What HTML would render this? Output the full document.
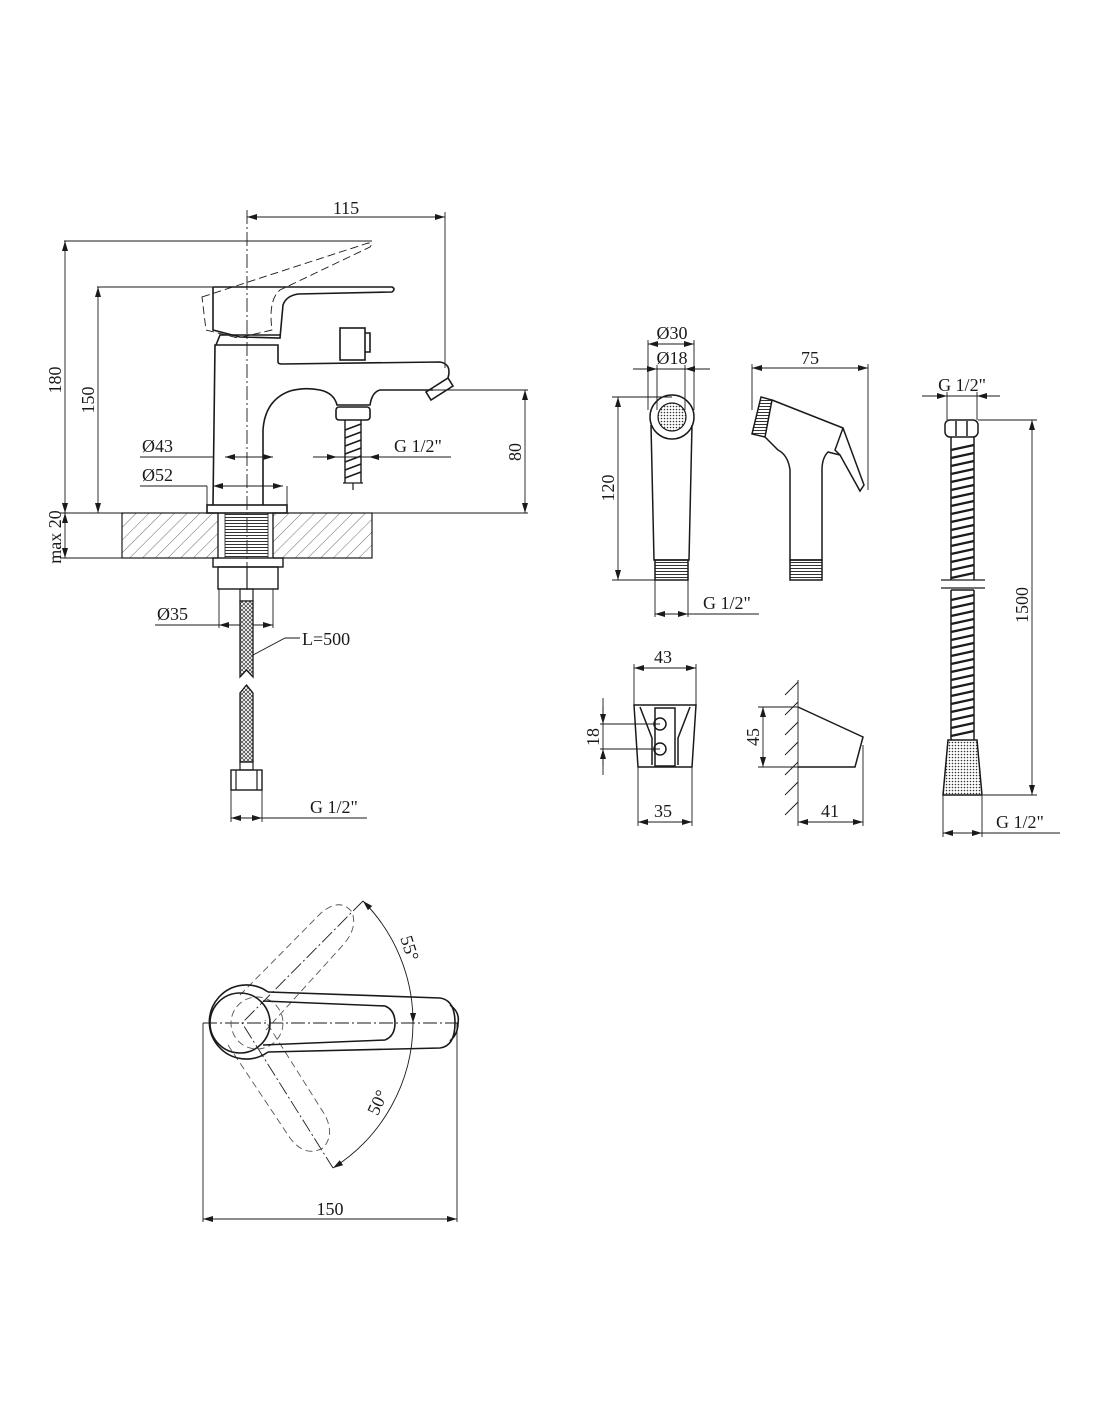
<!DOCTYPE html>
<html><head><meta charset="utf-8"><style>html,body{margin:0;padding:0;background:#fff}svg{display:block}</style></head><body>
<svg width="1100" height="1422" viewBox="0 0 1100 1422" xmlns="http://www.w3.org/2000/svg" font-family="Liberation Serif, serif" font-size="18" fill="none" stroke="#1a1a1a" stroke-width="1.2">
<defs>
<marker id="a" viewBox="0 0 10 6" refX="10" refY="3" markerWidth="10" markerHeight="6" orient="auto-start-reverse" markerUnits="userSpaceOnUse"><path d="M0,0 L10,3 L0,6 z" fill="#1a1a1a" stroke="none"/></marker>
<pattern id="h" width="9" height="9" patternUnits="userSpaceOnUse" patternTransform="rotate(45)"><line x1="0" y1="0" x2="0" y2="9" stroke="#444" stroke-width="0.8"/></pattern>
<pattern id="x" width="4" height="4" patternUnits="userSpaceOnUse"><rect width="4" height="4" fill="#fff" stroke="none"/><path d="M0,0 L4,4 M4,0 L0,4" stroke="#333" stroke-width="0.7"/></pattern>
<pattern id="d" width="3" height="3" patternUnits="userSpaceOnUse"><rect width="3" height="3" fill="#fff" stroke="none"/><circle cx="1.5" cy="1.5" r="0.8" fill="#333" stroke="none"/></pattern>
<pattern id="t" width="4" height="3" patternUnits="userSpaceOnUse"><line x1="0" y1="1.5" x2="4" y2="1.5" stroke="#333" stroke-width="1"/></pattern>
</defs>

<g stroke-width="0.9">
<line x1="247" y1="210" x2="247" y2="590" stroke-dasharray="14 3 2 3"/>
<line x1="247" y1="217" x2="445" y2="217" marker-start="url(#a)" marker-end="url(#a)"/>
<line x1="445" y1="212" x2="445" y2="368"/>
<line x1="64" y1="241" x2="372" y2="241"/>
<line x1="65" y1="241" x2="65" y2="513" marker-start="url(#a)" marker-end="url(#a)"/>
<line x1="97" y1="287" x2="213" y2="287"/>
<line x1="98" y1="287" x2="98" y2="513" marker-start="url(#a)" marker-end="url(#a)"/>
<line x1="65" y1="513" x2="65" y2="558" marker-start="url(#a)" marker-end="url(#a)"/>
<line x1="60" y1="558" x2="122" y2="558"/>
<line x1="60" y1="513" x2="528" y2="513"/>
<line x1="433" y1="390" x2="528" y2="390"/>
<line x1="525" y1="390" x2="525" y2="513" marker-start="url(#a)" marker-end="url(#a)"/>
<line x1="140" y1="457" x2="213" y2="457"/>
<line x1="225" y1="457" x2="273" y2="457" marker-start="url(#a)" marker-end="url(#a)"/>
<line x1="140" y1="486" x2="207" y2="486"/>
<line x1="213" y1="486" x2="283" y2="486" marker-start="url(#a)" marker-end="url(#a)"/>
<line x1="207" y1="486" x2="207" y2="505"/><line x1="287" y1="486" x2="287" y2="505"/>
<line x1="313" y1="457" x2="451" y2="457"/>
<line x1="320" y1="457" x2="337" y2="457" marker-end="url(#a)"/>
<line x1="385" y1="457" x2="369" y2="457" marker-end="url(#a)"/>
</g>
<g fill="#1a1a1a" stroke="none">
<text x="346" y="214" text-anchor="middle">115</text>
<text transform="translate(61,380) rotate(-90)" text-anchor="middle">180</text>
<text transform="translate(94,400) rotate(-90)" text-anchor="middle">150</text>
<text transform="translate(61,537) rotate(-90)" text-anchor="middle">max 20</text>
<text transform="translate(521,452) rotate(-90)" text-anchor="middle">80</text>
<text x="142" y="452">Ø43</text>
<text x="142" y="481">Ø52</text>
<text x="394" y="452">G 1/2"</text>
</g>
<rect x="122" y="513" width="96" height="45" fill="url(#h)"/>
<rect x="273" y="513" width="99" height="45" fill="url(#h)"/>
<rect x="225" y="513" width="43" height="45" fill="url(#t)" stroke-width="0.8"/>
<line x1="218" y1="513" x2="218" y2="558"/><line x1="273" y1="513" x2="273" y2="558"/>
<g stroke-width="1.6">
<rect x="207" y="505" width="80" height="8"/>
<path d="M213,505 L215,345 L278,345 L278,362 Q278,364 282,364 L440,362 Q452,364 448,378"/>
<path d="M433,390 L380,390 Q372,392 370,405 L337,405 Q334,393 320,390 Q305,387 290,391 Q265,400 263,430 L263,505"/>
<path d="M216,345 L220,335 L280,335"/>
<rect x="340" y="328" width="25" height="32"/>
<path d="M365,333 L370,333 L370,352 L365,352"/>
<path d="M426,392 L448,378 L453,386 L431,400 z"/>
<rect x="336" y="407" width="34" height="13" rx="3"/>
<path d="M213,287 L213,330 L240,337 L280,338 L283,305 Q286,296 298,294 L392,292 Q396,289 392,287 L213,287"/>
</g>
<path d="M345,420 L345,483 M361,420 L361,483" stroke-width="1.4"/>
<path d="M345,430 L361,424 M345,438 L361,432 M345,446 L361,440 M345,454 L361,448 M345,462 L361,456 M345,470 L361,464 M345,478 L361,472" stroke-width="1.6"/>
<path d="M343,483 L363,483 M353,483 L353,490"/>
<path d="M202,297 L365,244 Q375,241 370,247 L280,290 Q268,300 272,330 L238,338 L206,330 z" stroke-dasharray="8 4" stroke-width="0.9"/>
<rect x="213" y="558" width="70" height="9" stroke-width="1.4"/>
<rect x="218" y="567" width="60" height="22" stroke-width="1.4"/>
<line x1="247" y1="567" x2="247" y2="589"/>
<rect x="240" y="589" width="13" height="12"/>
<g stroke-width="0.9">
<line x1="219" y1="589" x2="219" y2="628"/><line x1="273" y1="589" x2="273" y2="628"/>
<line x1="155" y1="625" x2="219" y2="625"/>
<line x1="219" y1="625" x2="273" y2="625" marker-start="url(#a)" marker-end="url(#a)"/>
<path d="M253,655 L285,638 L300,638"/>
<line x1="231" y1="790" x2="231" y2="822"/><line x1="262" y1="790" x2="262" y2="822"/>
<line x1="231" y1="818" x2="367" y2="818"/>
<line x1="231" y1="818" x2="262" y2="818" marker-start="url(#a)" marker-end="url(#a)"/>
</g>
<path d="M240,601 L253,601 L253,677 L246.5,670 L240,677 z" fill="url(#x)" stroke-width="1.3"/>
<path d="M246.5,685 L253,693 L253,762 L240,762 L240,693 z" fill="url(#x)" stroke-width="1.3"/>
<rect x="240" y="762" width="13" height="8"/>
<rect x="231" y="770" width="31" height="20" stroke-width="1.4"/>
<line x1="236" y1="770" x2="236" y2="790"/><line x1="257" y1="770" x2="257" y2="790"/>
<g fill="#1a1a1a" stroke="none">
<text x="157" y="620">Ø35</text>
<text x="302" y="645">L=500</text>
<text x="310" y="813">G 1/2"</text>
</g>

<g stroke-width="0.9">
<line x1="203" y1="1023" x2="460" y2="1023" stroke-dasharray="14 3 2 3"/>
<line x1="203" y1="1023" x2="203" y2="1222"/><line x1="457" y1="1023" x2="457" y2="1222"/>
<line x1="203" y1="1219" x2="457" y2="1219" marker-start="url(#a)" marker-end="url(#a)"/>
<path d="M363,901 L242,1023 L333,1168" stroke-dasharray="14 3 2 3"/>
<path d="M363,901 A172,172 0 0 1 413,1023" marker-start="url(#a)" marker-end="url(#a)"/>
<path d="M413,1023 A172,172 0 0 1 333,1168" marker-end="url(#a)"/>
<g stroke-dasharray="7 4" stroke="#555">
<path d="M240,995 L321,913 Q340,897 352,912 Q358,928 343,945 L266,1030"/>
<path d="M228,1045 L290,1138 Q305,1158 323,1148 Q335,1135 325,1115 L265,1020"/>
<circle cx="257" cy="1023" r="26"/>
</g>
</g>
<g stroke-width="1.6">
<path d="M268,992 A37,37 0 1 0 268,1052"/>
<circle cx="240" cy="1023" r="30"/>
<path d="M268,992 L440,998 Q455,1000 455,1023 Q455,1046 440,1048 L268,1052"/>
<path d="M263,1001 L385,1006 Q395,1010 395,1023 Q395,1036 385,1040 L263,1045"/>
<path d="M450,1005 Q460,1012 458,1023 Q458,1034 450,1041"/>
</g>
<g fill="#1a1a1a" stroke="none">
<text x="330" y="1215" text-anchor="middle">150</text>
<text transform="translate(404,950) rotate(72)" text-anchor="middle">55°</text>
<text transform="translate(383,1105) rotate(-65)" text-anchor="middle">50°</text>
</g>

<g stroke-width="0.9">
<line x1="648" y1="344" x2="694" y2="344" marker-start="url(#a)" marker-end="url(#a)"/>
<line x1="633" y1="369" x2="710" y2="369"/>
<line x1="643" y1="369" x2="657" y2="369" marker-end="url(#a)"/>
<line x1="700" y1="369" x2="685" y2="369" marker-end="url(#a)"/>
<line x1="648" y1="340" x2="648" y2="410"/><line x1="694" y1="340" x2="694" y2="410"/>
<line x1="657" y1="365" x2="657" y2="410"/><line x1="685" y1="365" x2="685" y2="410"/>
<line x1="612" y1="397" x2="672" y2="397"/><line x1="612" y1="580" x2="655" y2="580"/>
<line x1="618" y1="397" x2="618" y2="580" marker-start="url(#a)" marker-end="url(#a)"/>
<line x1="655" y1="580" x2="655" y2="617"/><line x1="688" y1="580" x2="688" y2="617"/>
<line x1="655" y1="614" x2="759" y2="614"/>
<line x1="655" y1="614" x2="688" y2="614" marker-start="url(#a)" marker-end="url(#a)"/>
</g>
<g stroke-width="1.5">
<circle cx="672" cy="417" r="22"/>
<path d="M651,425 L654,560 L689,560 L692,425"/>
<rect x="655" y="560" width="33" height="20" fill="url(#t)"/>
</g>
<circle cx="672" cy="417" r="14" fill="url(#d)" stroke-width="1.2"/>
<g fill="#1a1a1a" stroke="none">
<text x="672" y="339" text-anchor="middle">Ø30</text>
<text x="672" y="364" text-anchor="middle">Ø18</text>
<text transform="translate(614,488) rotate(-90)" text-anchor="middle">120</text>
<text x="703" y="609">G 1/2"</text>
</g>

<g stroke-width="0.9">
<line x1="752" y1="368" x2="868" y2="368" marker-start="url(#a)" marker-end="url(#a)"/>
<line x1="752" y1="364" x2="752" y2="410"/><line x1="868" y1="364" x2="868" y2="490"/>
</g>
<g stroke-width="1.5">
<path d="M761,397 L752,434 L765,437 L772,400 z" fill="url(#t)"/>
<path d="M772,400 L843,428 L864,485 L860,491 L840,455 L828,452 Q822,458 822,470 L822,560 L790,560 L790,470 Q788,455 778,450 Q770,442 765,437"/>
<path d="M843,428 L835,450 L840,455"/>
<rect x="790" y="560" width="32" height="20" fill="url(#t)"/>
</g>
<text x="810" y="364" text-anchor="middle" fill="#1a1a1a" stroke="none">75</text>

<g stroke-width="0.9">
<line x1="634" y1="668" x2="696" y2="668" marker-start="url(#a)" marker-end="url(#a)"/>
<line x1="634" y1="664" x2="634" y2="705"/><line x1="696" y1="664" x2="696" y2="705"/>
<line x1="603" y1="698" x2="603" y2="775"/>
<line x1="603" y1="706" x2="603" y2="724" marker-end="url(#a)"/>
<line x1="603" y1="766" x2="603" y2="749" marker-end="url(#a)"/>
<line x1="600" y1="724" x2="660" y2="724"/><line x1="600" y1="749" x2="660" y2="749"/>
<line x1="638" y1="767" x2="638" y2="826"/><line x1="692" y1="767" x2="692" y2="826"/>
<line x1="638" y1="822" x2="692" y2="822" marker-start="url(#a)" marker-end="url(#a)"/>
</g>
<g stroke-width="1.5">
<path d="M634,705 L696,705 L692,767 L638,767 z"/>
<path d="M640,707 L652,738 L652,765 M690,707 L678,738 L678,765"/>
<rect x="655" y="708" width="20" height="58"/>
<circle cx="660" cy="724" r="6"/><circle cx="660" cy="749" r="6"/>
</g>
<g fill="#1a1a1a" stroke="none">
<text x="663" y="663" text-anchor="middle">43</text>
<text transform="translate(599,737) rotate(-90)" text-anchor="middle">18</text>
<text x="663" y="817" text-anchor="middle">35</text>
</g>

<g stroke-width="0.9">
<line x1="798" y1="680" x2="798" y2="826"/>
<path d="M785,695 L798,682 M785,715 L798,702 M785,735 L798,722 M785,755 L798,742 M785,775 L798,762 M785,795 L798,782 M785,815 L798,802"/>
<line x1="758" y1="707" x2="798" y2="707"/><line x1="758" y1="767" x2="798" y2="767"/>
<line x1="763" y1="707" x2="763" y2="767" marker-start="url(#a)" marker-end="url(#a)"/>
<line x1="863" y1="745" x2="863" y2="826"/>
<line x1="798" y1="822" x2="863" y2="822" marker-start="url(#a)" marker-end="url(#a)"/>
</g>
<path d="M798,707 L863,737 L855,767 L798,767" stroke-width="1.5"/>
<g fill="#1a1a1a" stroke="none">
<text transform="translate(759,737) rotate(-90)" text-anchor="middle">45</text>
<text x="830" y="817" text-anchor="middle">41</text>
</g>

<g stroke-width="0.9">
<line x1="922" y1="396" x2="1000" y2="396"/>
<line x1="932" y1="396" x2="947" y2="396" marker-end="url(#a)"/>
<line x1="992" y1="396" x2="977" y2="396" marker-end="url(#a)"/>
<line x1="947" y1="392" x2="947" y2="420"/><line x1="977" y1="392" x2="977" y2="420"/>
<line x1="978" y1="420" x2="1037" y2="420"/><line x1="983" y1="795" x2="1037" y2="795"/>
<line x1="1032" y1="420" x2="1032" y2="795" marker-start="url(#a)" marker-end="url(#a)"/>
<line x1="943" y1="795" x2="943" y2="837"/><line x1="982" y1="795" x2="982" y2="837"/>
<line x1="943" y1="833" x2="1060" y2="833"/>
<line x1="943" y1="833" x2="982" y2="833" marker-start="url(#a)" marker-end="url(#a)"/>
</g>
<g stroke-width="1.5">
<rect x="945" y="420" width="33" height="17" rx="5"/>
<line x1="956" y1="421" x2="956" y2="436"/><line x1="967" y1="421" x2="967" y2="436"/>
<path d="M951,437 L951,580 M974,437 L974,580 M951,590 L974,590 M951,590 L951,740 M974,590 L974,740"/>
<path d="M941,580 L985,580 M941,588 L985,588" stroke-width="1.2"/>
<path d="M943,795 L948,740 L977,740 L982,795 z" fill="url(#d)"/>
</g>
<path d="M951,450 L974,445 M951,458 L974,453 M951,466 L974,461 M951,474 L974,469 M951,482 L974,477 M951,490 L974,485 M951,498 L974,493 M951,506 L974,501 M951,514 L974,509 M951,522 L974,517 M951,530 L974,525 M951,538 L974,533 M951,546 L974,541 M951,554 L974,549 M951,562 L974,557 M951,570 L974,565 M951,578 L974,573 M951,600 L974,595 M951,608 L974,603 M951,616 L974,611 M951,624 L974,619 M951,632 L974,627 M951,640 L974,635 M951,648 L974,643 M951,656 L974,651 M951,664 L974,659 M951,672 L974,667 M951,680 L974,675 M951,688 L974,683 M951,696 L974,691 M951,704 L974,699 M951,712 L974,707 M951,720 L974,715 M951,728 L974,723 M951,736 L974,731" stroke-width="2.2"/>
<g fill="#1a1a1a" stroke="none">
<text x="962" y="391" text-anchor="middle">G 1/2"</text>
<text transform="translate(1028,605) rotate(-90)" text-anchor="middle">1500</text>
<text x="996" y="828">G 1/2"</text>
</g>
</svg>
</body></html>
